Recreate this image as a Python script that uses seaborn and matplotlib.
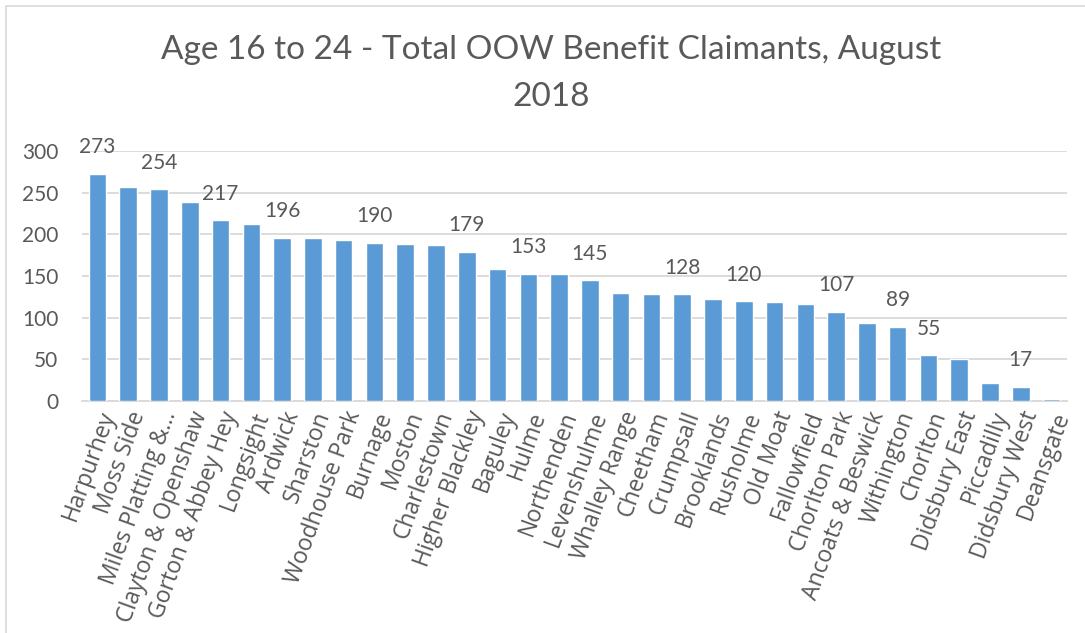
import numpy as np
import pandas as pd
import matplotlib
matplotlib.use("Agg")
import matplotlib.pyplot as plt
import seaborn as sns
from matplotlib.patches import Rectangle

# ---- data ----
wards = ["Harpurhey", "Moss Side", "Miles Platting &...", "Clayton & Openshaw",
         "Gorton & Abbey Hey", "Longsight", "Ardwick", "Sharston", "Woodhouse Park",
         "Burnage", "Moston", "Charlestown", "Higher Blackley", "Baguley", "Hulme",
         "Northenden", "Levenshulme", "Whalley Range", "Cheetham", "Crumpsall",
         "Brooklands", "Rusholme", "Old Moat", "Fallowfield", "Chorlton Park",
         "Ancoats & Beswick", "Withington", "Chorlton", "Didsbury East", "Piccadilly",
         "Didsbury West", "Deansgate"]
claimants = [273, 257, 254, 239, 217, 213, 196, 196, 193, 190, 189, 187, 179, 158, 153,
             152, 145, 130, 128, 128, 122, 120, 119, 116, 107, 94, 89, 55, 50, 22, 17, 3]
# wards that carry a data label in the original
labelled = ["Harpurhey", "Miles Platting &...", "Gorton & Abbey Hey", "Ardwick", "Burnage",
            "Higher Blackley", "Hulme", "Levenshulme", "Crumpsall", "Rusholme",
            "Chorlton Park", "Withington", "Chorlton", "Didsbury West"]
y_ticks = [0, 50, 100, 150, 200, 250, 300]

df = pd.DataFrame({"ward": wards, "claimants": claimants})

sns.set_theme(style="white")
plt.rcParams["font.family"] = ["Lato", "DejaVu Sans"]
txt = "#595959"

fig = plt.figure(figsize=(10.85, 6.33), dpi=100)
# light frame of the chart area (top and left edges visible)
fig.patches.append(Rectangle((6 / 1085, -0.05), 1.1, 1 - 6 / 633 + 0.05,
                             transform=fig.transFigure, fill=False,
                             edgecolor="#D9D9D9", linewidth=1.2))
ax = fig.add_axes([82 / 1085, (633 - 401) / 633, (1067 - 82) / 1085, 250 / 633])

sns.barplot(data=df, x="ward", y="claimants", color="#5B9BD5", width=0.57,
            saturation=1, ax=ax, zorder=3)

ax.set_ylim(0, 300)
ax.set_xlim(-0.5, len(wards) - 0.5)
ax.set_yticks(y_ticks)
ax.yaxis.grid(True, color="#D9D9D9", linewidth=1.3, zorder=0)
ax.set_axisbelow(True)
for s in ["top", "right", "left"]:
    ax.spines[s].set_visible(False)
ax.spines["bottom"].set_color("#D9D9D9")
ax.spines["bottom"].set_linewidth(1.3)
ax.set_xlabel("")
ax.set_ylabel("")

ax.tick_params(axis="y", length=0, pad=17, labelsize=15, labelcolor=txt)
ax.tick_params(axis="x", length=0, pad=5, labelcolor=txt)
ax.set_xticks(range(len(wards)))
ax.set_xticklabels(wards, rotation=70, ha="right", rotation_mode="anchor",
                   fontsize=16.5, family=["Open Sans", "DejaVu Sans"])

# data labels
for bar, name, val in zip(ax.patches, wards, claimants):
    if name in labelled:
        ax.annotate(str(val), (bar.get_x() + bar.get_width() / 2, bar.get_height()),
                    xytext=(0, 19), textcoords="offset points",
                    ha="center", va="center", fontsize=15, color=txt)

fig.text(551 / 1085, 1 - 50 / 633, "Age 16 to 24 - Total OOW Benefit Claimants, August",
         ha="center", va="center", fontsize=24, color=txt)
fig.text(551 / 1085, 1 - 97 / 633, "2018", ha="center", va="center", fontsize=24,
         color=txt)

fig.savefig("out.png", dpi=100)
